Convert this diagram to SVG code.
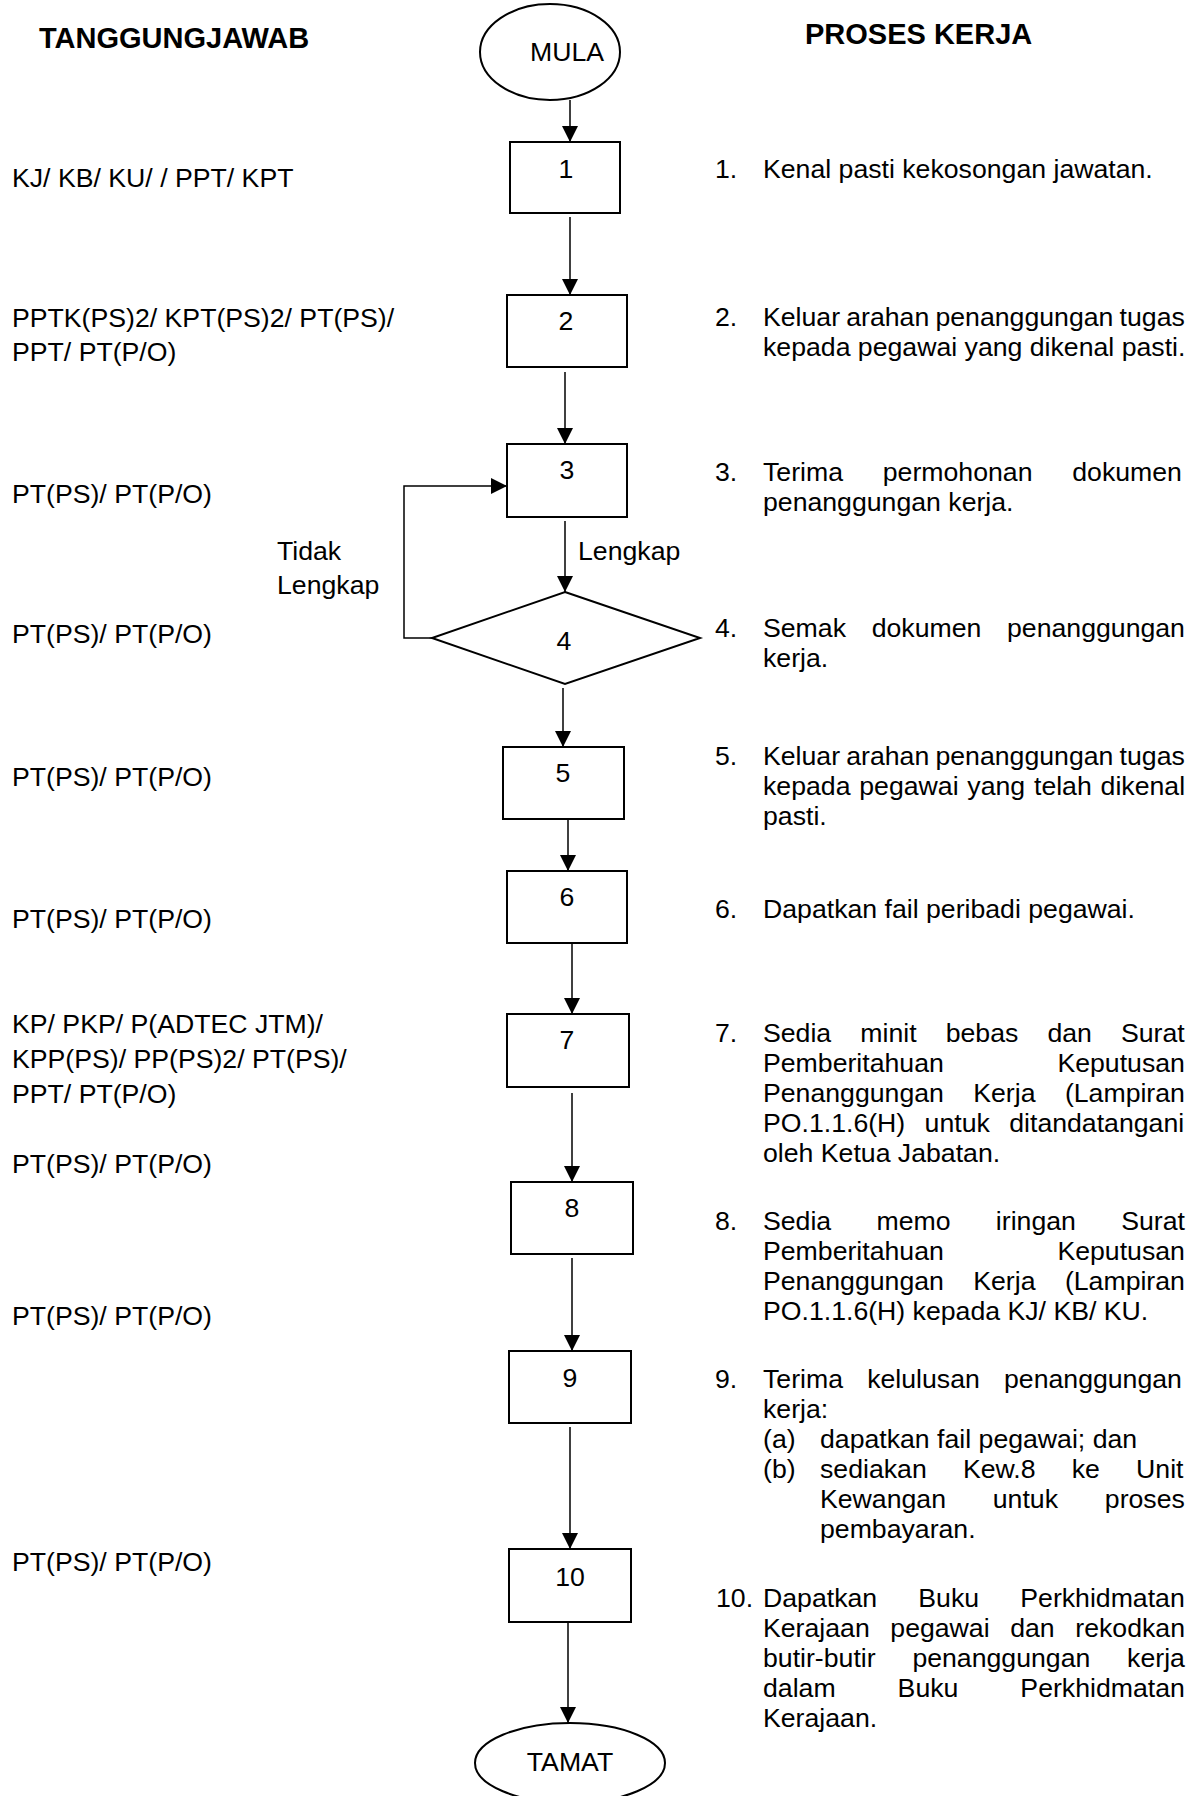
<svg xmlns="http://www.w3.org/2000/svg" width="1195" height="1796" viewBox="0 0 1195 1796">
  <style>
    text { font-family: "Liberation Sans", Arial, sans-serif; font-size: 26.67px; fill: #000; }
    .hdr { font-weight: bold; font-size: 29px; }
    .mid { text-anchor: middle; }
    .shape { fill: #fff; stroke: #000; stroke-width: 2; }
    .conn { fill: none; stroke: #000; stroke-width: 1.5; }
  </style>
  <defs>
    <marker id="arrow" viewBox="0 0 10 10" refX="10" refY="5" markerUnits="userSpaceOnUse" markerWidth="16" markerHeight="16" orient="auto">
      <path d="M0,0 L10,5 L0,10 z" fill="#000"/>
    </marker>
  </defs>
  <rect width="1195" height="1796" fill="#fff"/>

  <!-- column headings -->
  <text class="hdr" x="39" y="48">TANGGUNGJAWAB</text>
  <text class="hdr" x="805" y="44">PROSES KERJA</text>

  <!-- connectors -->
  <g id="connectors">
    <line class="conn" x1="570" y1="100" x2="570" y2="142" marker-end="url(#arrow)"/>
    <line class="conn" x1="570" y1="217" x2="570" y2="295" marker-end="url(#arrow)"/>
    <line class="conn" x1="565" y1="372" x2="565" y2="444" marker-end="url(#arrow)"/>
    <line class="conn" x1="565" y1="521" x2="565" y2="592" marker-end="url(#arrow)"/>
    <polyline class="conn" points="432,638 404,638 404,486 507,486" marker-end="url(#arrow)"/>
    <line class="conn" x1="563" y1="688" x2="563" y2="747" marker-end="url(#arrow)"/>
    <line class="conn" x1="568" y1="820" x2="568" y2="871" marker-end="url(#arrow)"/>
    <line class="conn" x1="572" y1="944" x2="572" y2="1014" marker-end="url(#arrow)"/>
    <line class="conn" x1="572" y1="1093" x2="572" y2="1182" marker-end="url(#arrow)"/>
    <line class="conn" x1="572" y1="1258" x2="572" y2="1351" marker-end="url(#arrow)"/>
    <line class="conn" x1="570" y1="1427" x2="570" y2="1549" marker-end="url(#arrow)"/>
    <line class="conn" x1="568" y1="1623" x2="568" y2="1723" marker-end="url(#arrow)"/>
    <text x="578" y="560">Lengkap</text>
    <text x="277" y="560">Tidak</text>
    <text x="277" y="594">Lengkap</text>
  </g>

  <!-- flow nodes -->
  <g id="start">
    <ellipse class="shape" cx="550" cy="52" rx="70" ry="48"/>
    <text class="mid" x="567" y="61">MULA</text>
  </g>
  <g id="step1">
    <rect class="shape" x="510" y="142" width="110" height="71"/>
    <text class="mid" x="566" y="178">1</text>
  </g>
  <g id="step2">
    <rect class="shape" x="507" y="295" width="120" height="72"/>
    <text class="mid" x="566" y="330">2</text>
  </g>
  <g id="step3">
    <rect class="shape" x="507" y="444" width="120" height="73"/>
    <text class="mid" x="567" y="479">3</text>
  </g>
  <g id="step4">
    <polygon class="shape" points="565,592 700,638 565,684 432,638"/>
    <text class="mid" x="564" y="650">4</text>
  </g>
  <g id="step5">
    <rect class="shape" x="503" y="747" width="121" height="72"/>
    <text class="mid" x="563" y="782">5</text>
  </g>
  <g id="step6">
    <rect class="shape" x="507" y="871" width="120" height="72"/>
    <text class="mid" x="567" y="906">6</text>
  </g>
  <g id="step7">
    <rect class="shape" x="507" y="1014" width="122" height="73"/>
    <text class="mid" x="567" y="1049">7</text>
  </g>
  <g id="step8">
    <rect class="shape" x="511" y="1182" width="122" height="72"/>
    <text class="mid" x="572" y="1217">8</text>
  </g>
  <g id="step9">
    <rect class="shape" x="509" y="1351" width="122" height="72"/>
    <text class="mid" x="570" y="1387">9</text>
  </g>
  <g id="step10">
    <rect class="shape" x="509" y="1549" width="122" height="73"/>
    <text class="mid" x="570" y="1586">10</text>
  </g>
  <g id="end">
    <ellipse class="shape" cx="570" cy="1763" rx="95" ry="40"/>
    <text class="mid" x="570" y="1771">TAMAT</text>
  </g>

  <!-- responsibility column -->
  <g id="responsibility">
    <text x="12" y="187">KJ/ KB/ KU/ / PPT/ KPT</text>
    <text x="12" y="327">PPTK(PS)2/ KPT(PS)2/ PT(PS)/</text>
    <text x="12" y="361">PPT/ PT(P/O)</text>
    <text x="12" y="503">PT(PS)/ PT(P/O)</text>
    <text x="12" y="643">PT(PS)/ PT(P/O)</text>
    <text x="12" y="786">PT(PS)/ PT(P/O)</text>
    <text x="12" y="928">PT(PS)/ PT(P/O)</text>
    <text x="12" y="1033">KP/ PKP/ P(ADTEC JTM)/</text>
    <text x="12" y="1068">KPP(PS)/ PP(PS)2/ PT(PS)/</text>
    <text x="12" y="1103">PPT/ PT(P/O)</text>
    <text x="12" y="1173">PT(PS)/ PT(P/O)</text>
    <text x="12" y="1325">PT(PS)/ PT(P/O)</text>
    <text x="12" y="1571">PT(PS)/ PT(P/O)</text>
  </g>

  <!-- work process column -->
  <g id="process">
    <text x="715" y="178">1.</text>
    <text x="763" y="178">Kenal pasti kekosongan jawatan.</text>

    <text x="715" y="326">2.</text>
    <text x="763" y="326" word-spacing="-1.2">Keluar arahan penanggungan tugas</text>
    <text x="763" y="356">kepada pegawai yang dikenal pasti.</text>

    <text x="715" y="481">3.</text>
    <text x="763" y="481" word-spacing="32.4">Terima permohonan dokumen</text>
    <text x="763" y="511">penanggungan kerja.</text>

    <text x="715" y="637">4.</text>
    <text x="763" y="637" word-spacing="18.3">Semak dokumen penanggungan</text>
    <text x="763" y="667">kerja.</text>

    <text x="715" y="765">5.</text>
    <text x="763" y="765" word-spacing="-1.2">Keluar arahan penanggungan tugas</text>
    <text x="763" y="795" word-spacing="1.4">kepada pegawai yang telah dikenal</text>
    <text x="763" y="825">pasti.</text>

    <text x="715" y="918">6.</text>
    <text x="763" y="918">Dapatkan fail peribadi pegawai.</text>

    <text x="715" y="1042">7.</text>
    <text x="763" y="1042" word-spacing="21.7">Sedia minit bebas dan Surat</text>
    <text x="763" y="1072" word-spacing="106.2">Pemberitahuan Keputusan</text>
    <text x="763" y="1102" word-spacing="22">Penanggungan Kerja (Lampiran</text>
    <text x="763" y="1132" word-spacing="12">PO.1.1.6(H) untuk ditandatangani</text>
    <text x="763" y="1162">oleh Ketua Jabatan.</text>

    <text x="715" y="1230">8.</text>
    <text x="763" y="1230" word-spacing="37.9">Sedia memo iringan Surat</text>
    <text x="763" y="1260" word-spacing="106.2">Pemberitahuan Keputusan</text>
    <text x="763" y="1290" word-spacing="22">Penanggungan Kerja (Lampiran</text>
    <text x="763" y="1320">PO.1.1.6(H) kepada KJ/ KB/ KU.</text>

    <text x="715" y="1388">9.</text>
    <text x="763" y="1388" word-spacing="16.8">Terima kelulusan penanggungan</text>
    <text x="763" y="1418">kerja:</text>
    <text x="763" y="1448">(a)</text>
    <text x="820" y="1448">dapatkan fail pegawai; dan</text>
    <text x="763" y="1478">(b)</text>
    <text x="820" y="1478" word-spacing="28.8">sediakan Kew.8 ke Unit</text>
    <text x="820" y="1508" word-spacing="39.4">Kewangan untuk proses</text>
    <text x="820" y="1538">pembayaran.</text>

    <text x="716" y="1607">10.</text>
    <text x="763" y="1607" word-spacing="33.8">Dapatkan Buku Perkhidmatan</text>
    <text x="763" y="1637" word-spacing="13.2">Kerajaan pegawai dan rekodkan</text>
    <text x="763" y="1667" word-spacing="29.4">butir-butir penanggungan kerja</text>
    <text x="763" y="1697" word-spacing="54.6">dalam Buku Perkhidmatan</text>
    <text x="763" y="1727">Kerajaan.</text>
  </g>
</svg>
